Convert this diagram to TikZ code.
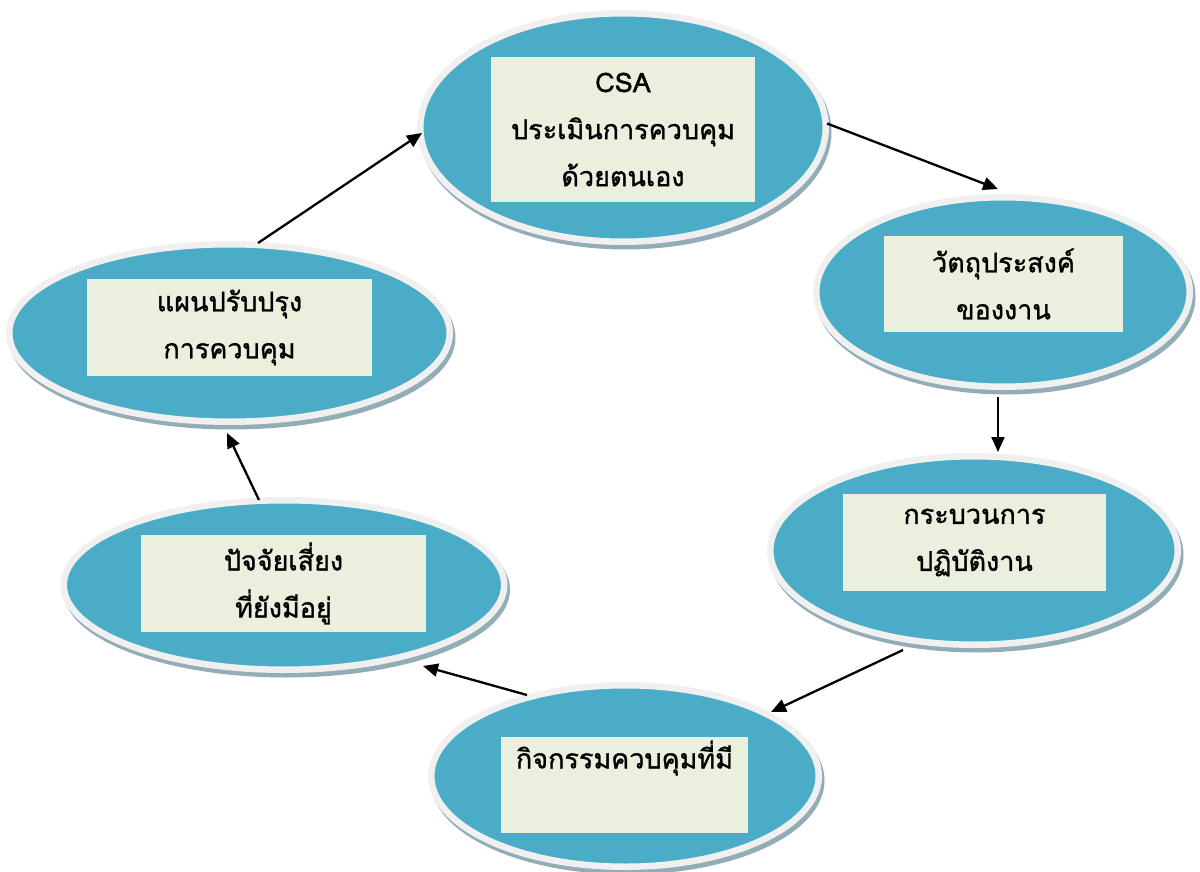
\documentclass[tikz,border=0pt]{standalone}
\usepackage{fontspec}
\newfontfamily\thaifont[Script=Thai,FakeBold=1.2]{Loma}
\usetikzlibrary{shapes.geometric,arrows.meta,shadows}
\definecolor{teal1}{HTML}{4AACC6}
\definecolor{rimc}{HTML}{F0F0F0}
\definecolor{shadowc}{HTML}{93ADB7}
\definecolor{boxc}{HTML}{EAF0DD}
\tikzset{
  oval/.style={ellipse, inner sep=0pt, fill=teal1, draw=rimc, line width=6.5pt,
    general shadow={fill=shadowc, draw=shadowc, line width=6.5pt, shadow xshift=2.5pt, shadow yshift=-4.5pt}},
  labelbox/.style={rectangle, fill=boxc, inner sep=0pt, align=center,
    font=\thaifont\fontsize{27}{47}\selectfont, text=black},
  conn/.style={line width=2.3pt, -{Triangle[length=15pt,width=13pt]}}
}
\begin{document}
\begin{tikzpicture}[x=1pt,y=-1pt]
\useasboundingbox (0,0) rectangle (1200,872);
% ellipses (outer size minus rim width)
\node[oval, minimum width=405.5pt, minimum height=228.5pt] (e1) at (623,127.5) {};
\node[oval, minimum width=373.5pt, minimum height=189.5pt] (e2) at (1003,292) {};
\node[oval, minimum width=407.5pt, minimum height=188.5pt] (e3) at (974,550.5) {};
\node[oval, minimum width=387.5pt, minimum height=181.5pt] (e4) at (625,776) {};
\node[oval, minimum width=440.5pt, minimum height=169.5pt] (e5) at (284,585) {};
\node[oval, minimum width=440.5pt, minimum height=177.5pt] (e6) at (229.5,333) {};
% boxes
\node[labelbox, minimum width=264pt, minimum height=145pt] (r1) at (623,129.5) {CSA\\ประเมินการควบคุม\\ด้วยตนเอง};
\node[labelbox, minimum width=239pt, minimum height=96pt] (r2) at (1003.5,284) {วัตถุประสงค์\\ของงาน};
\node[labelbox, minimum width=263pt, minimum height=97pt] (r3) at (974.5,542.5) {กระบวนการ\\ปฏิบัติงาน};
\node[labelbox, minimum width=247pt, minimum height=96pt] (r4) at (624.5,785) {กิจกรรมควบคุมที่มี\\\strut};
\node[labelbox, minimum width=285pt, minimum height=97pt] (r5) at (283.5,583.5) {ปัจจัยเสี่ยง\\ที่ยังมีอยู่};
\node[labelbox, minimum width=285pt, minimum height=97pt] (r6) at (229.5,327.5) {แผนปรับปรุง\\การควบคุม};
% connectors
\draw[conn] ([shift={(204pt,4pt)}]e1.center) -- ([shift={(-5pt,103pt)}]e2.center);
\draw[conn] ([shift={(-5pt,-105pt)}]e2.center) -- ([shift={(24pt,98.5pt)}]e3.center);
\draw[conn] ([shift={(-71pt,-99.5pt)}]e3.center) -- ([shift={(146pt,64pt)}]e4.center);
\draw[conn] ([shift={(-98pt,81pt)}]e4.center) -- ([shift={(139pt,-81pt)}]e5.center);
\draw[conn] ([shift={(-25pt,85pt)}]e5.center) -- ([shift={(-2.5pt,-100pt)}]e6.center);
\draw[conn] ([shift={(28.5pt,90pt)}]e6.center) -- ([shift={(-201pt,-5.5pt)}]e1.center);
\end{tikzpicture}
\end{document}
